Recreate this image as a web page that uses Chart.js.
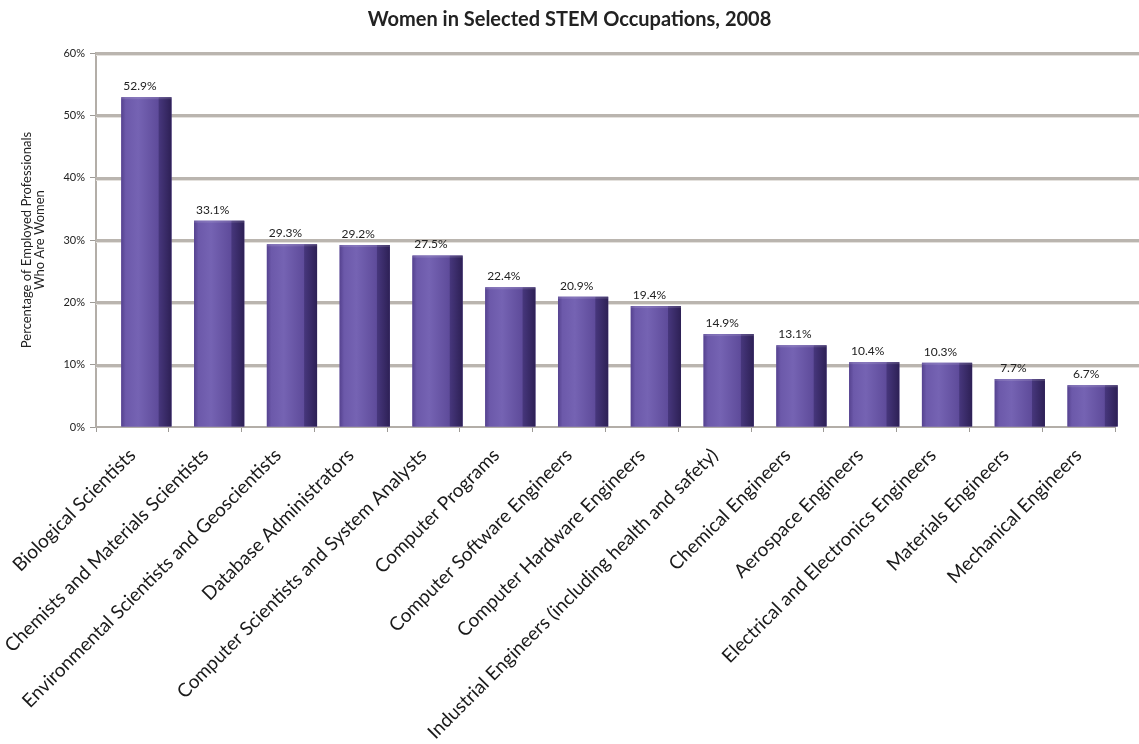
<!DOCTYPE html>
<html lang="en">
<head>
  <meta charset="UTF-8">
  <title>Women in Selected STEM Occupations, 2008</title>
  <script src="https://cdn.jsdelivr.net/npm/chart.js"></script>
  <style>
    html, body { margin: 0; padding: 0; background: #fff; }
    #wrap { position: relative; width: 1139px; height: 744px; }
  </style>
</head>
<body>
  <div id="wrap"><canvas id="stemChart"></canvas></div>

  <script>
    const occupations = [
      'Biological Scientists',
      'Chemists and Materials Scientists',
      'Environmental Scientists and Geoscientists',
      'Database Administrators',
      'Computer Scientists and System Analysts',
      'Computer Programs',
      'Computer Software Engineers',
      'Computer Hardware Engineers',
      'Industrial Engineers (including health and safety)',
      'Chemical Engineers',
      'Aerospace Engineers',
      'Electrical and Electronics Engineers',
      'Materials Engineers',
      'Mechanical Engineers'
    ];
    const womenShare = [52.9, 33.1, 29.3, 29.2, 27.5, 22.4, 20.9, 19.4, 14.9, 13.1, 10.4, 10.3, 7.7, 6.7];
    const yTickValues = [0, 10, 20, 30, 40, 50, 60];

    const FONT = 'Lato, "Open Sans", sans-serif';
    const DEPTH = 14;   // sideways shift of the bars (fake 3D depth)
    const SIDE = 13;    // width of the dark side face

    // horizontal "shelf" lines, running out to the right edge of the canvas
    const shelfLines = {
      id: 'shelfLines',
      beforeDatasetsDraw(chart) {
        const { ctx, chartArea, scales } = chart;
        ctx.save();
        yTickValues.forEach(v => {
          if (v === 0) return;
          const y = Math.round(scales.y.getPixelForValue(v));
          ctx.fillStyle = '#bab5af';
          ctx.fillRect(chartArea.left, y - 1, chart.width - chartArea.left, 3);
          ctx.fillStyle = '#e4e1dd';
          ctx.fillRect(chartArea.left, y + 2, chart.width - chartArea.left, 1);
        });
        ctx.restore();
      }
    };

    // shift the bars right, shade the front face and add the dark side
    const barDepth = {
      id: 'barDepth',
      beforeDatasetsDraw(chart) {
        chart.ctx.save();
        chart.ctx.translate(DEPTH, 0);
      },
      afterDatasetsDraw(chart) {
        const ctx = chart.ctx;
        const meta = chart.getDatasetMeta(0);
        meta.data.forEach((bar, i) => {
          const left = bar.x - bar.width / 2;
          const right = bar.x + bar.width / 2;
          const top = bar.y;
          const h = bar.base - bar.y;

          const face = ctx.createLinearGradient(left, 0, right - SIDE, 0);
          face.addColorStop(0, '#55428f');
          face.addColorStop(0.12, '#6c59aa');
          face.addColorStop(0.45, '#7563b3');
          face.addColorStop(1, '#5e4b9a');
          ctx.fillStyle = face;
          ctx.fillRect(left, top, bar.width - SIDE, h);

          const side = ctx.createLinearGradient(right - SIDE, 0, right, 0);
          side.addColorStop(0, '#47377d');
          side.addColorStop(1, '#2d2055');
          ctx.fillStyle = side;
          ctx.fillRect(right - SIDE, top, SIDE, h);

          ctx.fillStyle = 'rgba(255,255,255,0.12)';
          ctx.fillRect(left, top, bar.width, 2);

          // value label over the front face
          ctx.fillStyle = '#222';
          ctx.font = '12px ' + FONT;
          ctx.textAlign = 'center';
          ctx.textBaseline = 'bottom';
          ctx.fillText(womenShare[i].toFixed(1) + '%', left + (bar.width - SIDE) / 2, top - 5);
        });
        ctx.restore();
      }
    };

    new Chart(document.getElementById('stemChart'), {
      type: 'bar',
      data: {
        labels: occupations,
        datasets: [{
          data: womenShare,
          backgroundColor: '#6a57a6',
          borderWidth: 0,
          barPercentage: 0.69,
          categoryPercentage: 1
        }]
      },
      options: {
        responsive: true,
        maintainAspectRatio: false,
        animation: false,
        layout: { padding: 0 },
        plugins: {
          legend: { display: false },
          tooltip: { enabled: false },
          title: {
            display: true,
            text: 'Women in Selected STEM Occupations, 2008',
            color: '#222',
            font: { family: FONT, size: 20, weight: 'bold' },
            padding: { top: 8, bottom: 21 }
          }
        },
        scales: {
          x: {
            grid: { display: true, drawOnChartArea: false, offset: true, tickLength: 5, color: '#9d9a96' },
            border: { color: '#b3aea8', width: 2 },
            ticks: {
              minRotation: 45,
              maxRotation: 45,
              autoSkip: false,
              padding: 12,
              color: '#1a1a1a',
              font: { family: FONT, size: 19 }
            },
            afterFit(scale) { scale.height = 317; }
          },
          y: {
            min: 0,
            max: 60,
            afterBuildTicks(scale) { scale.ticks = yTickValues.map(v => ({ value: v })); },
            grid: { display: true, drawOnChartArea: false, tickLength: 6, color: '#9d9a96' },
            border: { color: '#b3aea8', width: 2 },
            ticks: {
              padding: 5,
              color: '#222',
              font: { family: FONT, size: 11 },
              callback: v => v + '%'
            },
            title: {
              display: true,
              text: ['Percentage of Employed Professionals', 'Who Are Women'],
              color: '#222',
              font: { family: FONT, size: 13, lineHeight: 1.0 },
              padding: { top: 20, bottom: 0 }
            },
            afterFit(scale) { scale.width = 96; }
          },
          // empty strip on the right where the shelf lines run past the bars
          yDepth: {
            position: 'right',
            min: 0,
            max: 60,
            ticks: { display: false },
            grid: { display: false },
            border: { display: false },
            afterFit(scale) { scale.width = 24; }
          }
        }
      },
      plugins: [shelfLines, barDepth]
    });
  </script>
</body>
</html>
